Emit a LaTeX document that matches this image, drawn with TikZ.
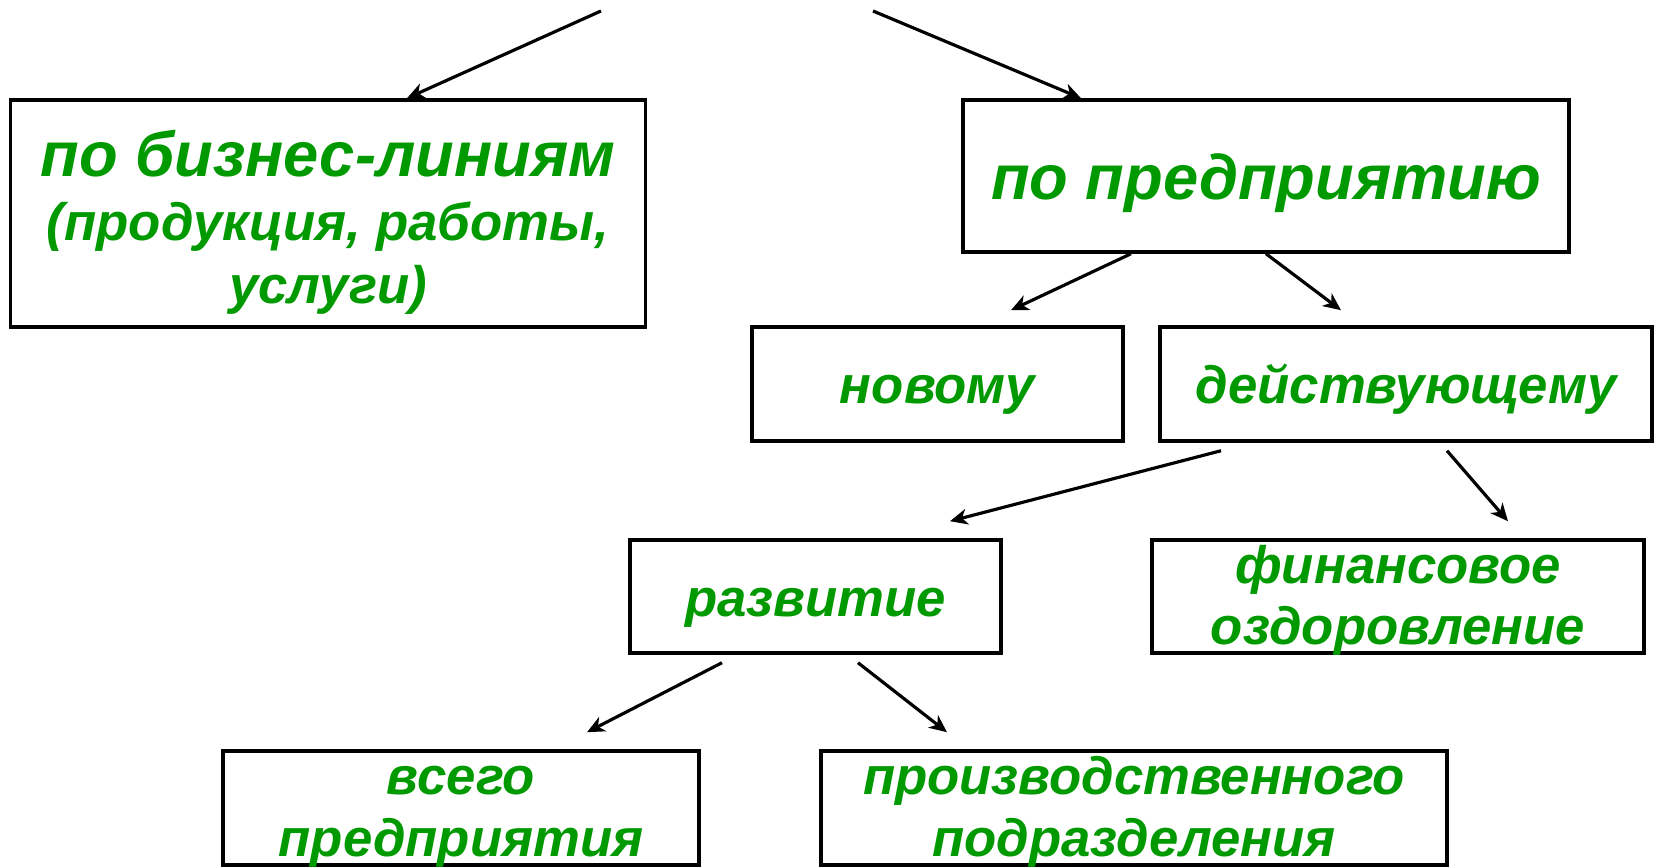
\documentclass[tikz,border=0pt]{standalone}
\usepackage{fontspec}
\setmainfont{Liberation Sans}
\usepackage{xcolor}
\usetikzlibrary{arrows.meta}
\definecolor{leafgreen}{RGB}{0,153,0}
\newcommand{\linestrut}[1][0.46cm]{\rule{0pt}{#1}}
\newcommand{\bigline}{\fontsize{18}{18}\selectfont}

\begin{document}
\begin{tikzpicture}[
    box/.style={draw=black,line width=1pt,rectangle,inner sep=0pt,
      font=\fontsize{15}{17.5}\selectfont\bfseries\itshape,text=leafgreen,
      align=center},
    oneline/.style={text height=0.5cm,text depth=0.1cm},
    twoline/.style={inner ysep=-0.1cm},
    link/.style={line width=0.9pt,-{Stealth[length=5pt,width=4.5pt,inset=1.5pt]}}
  ]
    \useasboundingbox (0,0) rectangle (16.56,8.67);

    \node[box,font=\fontsize{15}{18}\selectfont\bfseries\itshape,
      minimum width=6.35cm,minimum height=2.27cm] (biz) at (3.28,6.535)
      {\linestrut[0.64cm]{\bigline по бизнес-линиям}\\(продукция, работы,\\услуги)};
    \node[box,oneline,text height=0.58cm,minimum width=6.06cm,minimum height=1.52cm] (pred) at (12.66,6.91)
      {\bigline по предприятию};
    \node[box,oneline,minimum width=3.71cm,minimum height=1.14cm] (novomu) at (9.375,4.83)
      {новому};
    \node[box,oneline,minimum width=4.92cm,minimum height=1.14cm] (deyst) at (14.06,4.83)
      {действующему};
    \node[box,oneline,minimum width=3.71cm,minimum height=1.13cm] (razv) at (8.155,2.705)
      {развитие};
    \node[box,twoline,minimum width=4.92cm,minimum height=1.13cm] (fin) at (13.98,2.705)
      {\linestrut финансовое\\оздоровление};
    \node[box,twoline,minimum width=4.76cm,minimum height=1.14cm] (vsego) at (4.61,0.59)
      {\linestrut всего\\предприятия};
    \node[box,twoline,minimum width=6.26cm,minimum height=1.14cm] (proizv) at (11.34,0.59)
      {\linestrut производственного\\подразделения};

    \coordinate (top1) at (6.01,8.56);
    \coordinate (top2) at (8.73,8.56);

    \draw[link] (top1) -- ([xshift=0.79cm]biz.north);
    \draw[link] (top2) -- ([xshift=-1.85cm]pred.north);
    \draw[link] ([xshift=-1.35cm]pred.south) -- ([xshift=0.735cm,yshift=0.15cm]novomu.north);
    \draw[link] (pred.south) -- ([xshift=-0.65cm,yshift=0.15cm]deyst.north);
    \draw[link] ([xshift=-1.85cm,yshift=-0.08cm]deyst.south) -- ([xshift=1.345cm,yshift=0.17cm]razv.north);
    \draw[link] ([xshift=0.41cm,yshift=-0.08cm]deyst.south) -- ([xshift=1.1cm,yshift=0.17cm]fin.north);
    \draw[link] ([xshift=-0.935cm,yshift=-0.08cm]razv.south) -- ([xshift=1.26cm,yshift=0.17cm]vsego.north);
    \draw[link] ([xshift=0.425cm,yshift=-0.08cm]razv.south) -- ([xshift=-1.87cm,yshift=0.17cm]proizv.north);
\end{tikzpicture}
\end{document}
